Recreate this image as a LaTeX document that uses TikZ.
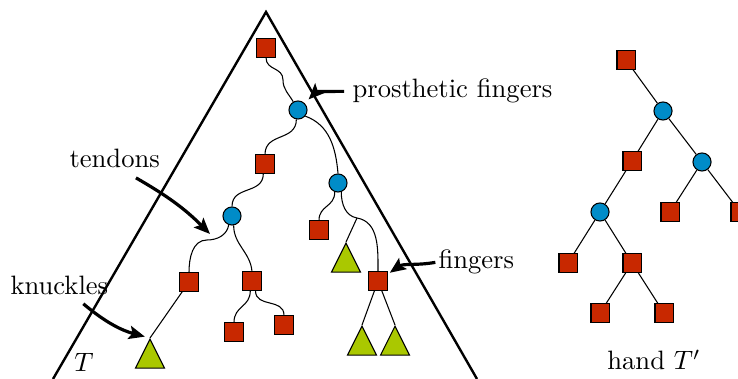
\documentclass[tikz,border=0pt]{standalone}
\usepackage{tikz}
\usetikzlibrary{shapes.geometric,arrows.meta,calc}
\definecolor{HandRed}{RGB}{200,40,0}
\definecolor{HandBlue}{RGB}{0,140,200}
\definecolor{HandGreen}{RGB}{170,200,0}
\tikzset{%
  bone/.style={draw, fill=HandRed, minimum size=6.8pt, inner sep=0pt},
  joint/.style={draw, fill=HandBlue, circle, minimum size=6.8pt, inner sep=0pt},
  fingertip/.style={draw, fill=HandGreen, isosceles triangle, isosceles triangle apex angle=54,
    isosceles triangle stretches, shape border rotate=90, minimum width=10.9pt, minimum height=10.9pt,
    inner sep=0pt, anchor=apex},
  pointer/.style={-{Stealth[length=6pt,width=5pt,inset=1.2pt]}, line width=1.2pt},
  hull/.style={line width=0.9pt}
}

\begin{document}
\begin{tikzpicture}[x=0.01321cm,y=0.01321cm]
    \useasboundingbox (0,0) rectangle (738,379);
    % Outline of T.
    \draw[hull] (53,0) -- (266,367) -- (477,0);
    % Nodes of T.
    \node[bone] (r) at (266,331) {};
    \node[joint] (c1) at (298,269) {};
    \node[bone] (s2) at (265,215) {};
    \node[joint] (c2) at (338,196) {};
    \node[joint] (c3) at (232,163) {};
    \node[bone] (s4) at (319,149) {};
    \node[fingertip] (t1) at (346,137) {};
    \node[bone] (s5) at (189,97) {};
    \node[bone] (s6) at (252,98) {};
    \node[bone] (f) at (378,98) {};
    \node[bone] (s7) at (234,47) {};
    \node[bone] (s8) at (284,54) {};
    \node[fingertip] (kn) at (150,41) {};
    \node[fingertip] (ftl) at (362,54) {};
    \node[fingertip] (ftr) at (395,54) {};
    \coordinate (w0) at (283,299);
    \coordinate (w1) at (207,139);
    \coordinate (j) at (357,161);
    % Tendons.
    \draw (r.south) to[out=-90,in=90,looseness=1.2] (w0) to[out=-90,in=120] (c1.120);
    \draw (c1.-100) to[out=-90,in=90,looseness=1.2] (s2.north);
    \draw (c1.-40) to[out=-20,in=95] (c2.north);
    \draw (s2.-100) to[out=-90,in=90,looseness=1.2] (c3.north);
    \draw (c3.-110) to[out=-100,in=0] (w1) to[out=180,in=90] (s5.north);
    \draw (c3.-80) to[out=-90,in=95] (s6.north);
    \draw (s6.-100) to[out=-90,in=90,looseness=1.2] (s7.north);
    \draw (s6.-70) to[out=-90,in=90,looseness=1.2] (s8.north);
    \draw (c2.-110) to[out=-90,in=90,looseness=1.2] (s4.north);
    \draw (c2.-70) to[out=-90,in=170] (j) to[out=-10,in=90] (f.north);
    % Straight fingers.
    \draw (j) -- (t1.apex);
    \draw (s5) -- (kn.apex);
    \draw (f) -- (ftl.apex);
    \draw (f) -- (ftr.apex);
    % Hand T'.
    \node[bone] (h0) at (626,319) {};
    \node[joint] (h1) at (663,268) {};
    \node[bone] (h2) at (632,218) {};
    \node[joint] (h3) at (702,217) {};
    \node[joint] (h4) at (600,167) {};
    \node[bone] (h5) at (670,167) {};
    \node[bone] (h6) at (740,167) {};
    \node[bone] (h7) at (568,116) {};
    \node[bone] (h8) at (632,116) {};
    \node[bone] (h9) at (600,66) {};
    \node[bone] (h10) at (664,66) {};
    \draw (h0) -- (h1);
    \draw (h1) -- (h2);
    \draw (h1) -- (h3);
    \draw (h2) -- (h4);
    \draw (h3) -- (h5);
    \draw (h3) -- (h6);
    \draw (h4) -- (h7);
    \draw (h4) -- (h8);
    \draw (h8) -- (h9);
    \draw (h8) -- (h10);
    % Labels and pointers.
    \node[anchor=base west, inner sep=0pt] (pf) at (352,281) {prosthetic fingers};
    \node[anchor=base west, inner sep=0pt] (td) at (69,211) {tendons};
    \node[anchor=base west, inner sep=0pt] (kl) at (10,84) {knuckles};
    \node[anchor=base west, inner sep=0pt] (fg) at (438,110) {fingers};
    \node[anchor=base] (tT) at (84,7) {$T$};
    \node[anchor=base] (tH) at (654,9) {hand $T'$};
    \coordinate (tdend) at (210,145);
    \draw[pointer, shorten >=2pt] ([xshift=-3pt]pf.west) to[out=180,in=45] (c1);
    \draw[pointer] ([xshift=8pt,yshift=-3.4pt]td.south) to[out=-30,in=135] (tdend);
    \draw[pointer, shorten >=2pt] ([xshift=9pt,yshift=-3pt]kl.south) to[out=-40,in=165] (kn.apex);
    \draw[pointer, shorten >=1pt] ([xshift=-1pt]fg.west) to[out=190,in=35] (f);
\end{tikzpicture}
\end{document}
